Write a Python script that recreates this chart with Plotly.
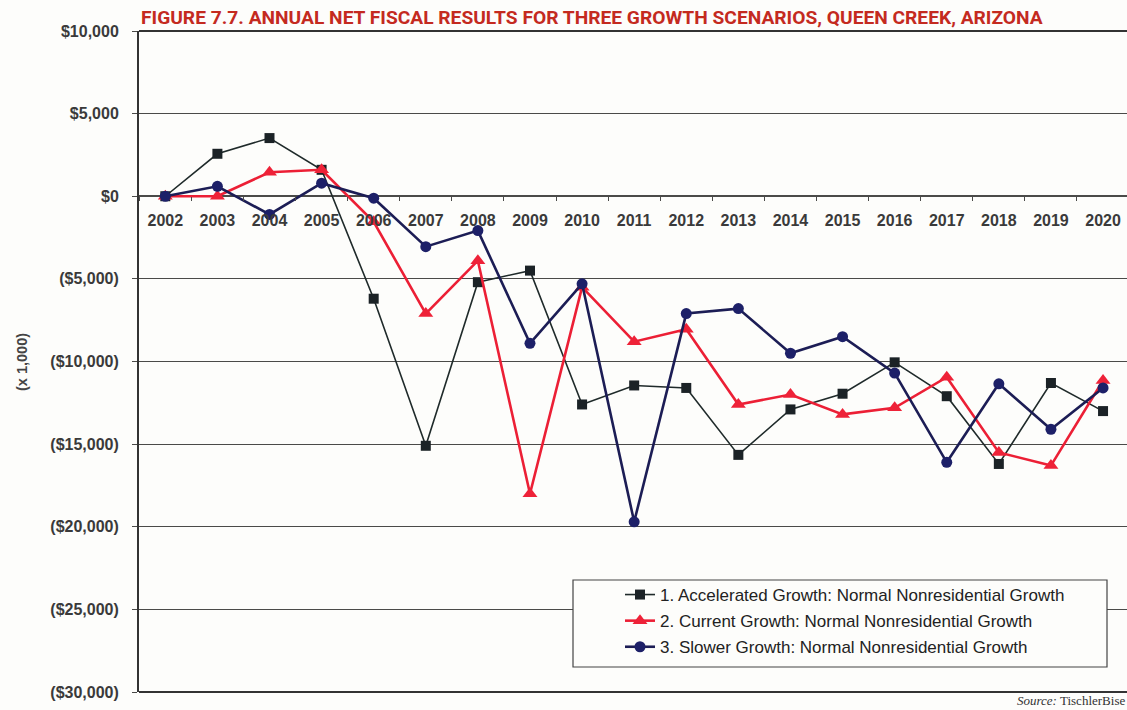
import plotly.graph_objects as go

# Annual net fiscal results, thousands of dollars
years = [str(y) for y in range(2002, 2021)]

accelerated = [0, 2570, 3520, 1600, -6200, -15100, -5200, -4500, -12600, -11450,
               -11600, -15650, -12900, -11950, -10050, -12100, -16200, -11300, -13000]
current = [0, 0, 1450, 1600, -1550, -7100, -3900, -18000, -5500, -8800,
           -8050, -12600, -12000, -13200, -12800, -10950, -15500, -16300, -11150]
slower = [0, 600, -1100, 790, -120, -3050, -2080, -8900, -5300, -19700,
          -7100, -6800, -9500, -8500, -10700, -16100, -11350, -14100, -11600]

series_names = [
    "1. Accelerated Growth: Normal Nonresidential Growth",
    "2. Current Growth: Normal Nonresidential Growth",
    "3. Slower Growth: Normal Nonresidential Growth",
]

y_ticks = [10000, 5000, 0, -5000, -10000, -15000, -20000, -25000, -30000]
y_tick_text = ["$10,000", "$5,000", "$0", "($5,000)", "($10,000)", "($15,000)",
               "($20,000)", "($25,000)", "($30,000)"]

W, H = 1127, 710
L, R, T, B = 139, 0, 31, 18
plot_w = W - L - R
plot_h = H - T - B
zero_pos = (0 - (-30000)) / 40000  # fraction of plot height where y = 0


def px_x(p):
    return (p - L) / plot_w


def px_y(p):
    return (H - B - p) / plot_h


fig = go.Figure()

fig.add_trace(go.Scatter(
    x=years, y=accelerated, name=series_names[0], mode="lines+markers",
    line=dict(color="#1f2a2a", width=1.6),
    marker=dict(symbol="square", size=10, color="#1b2226",
                line=dict(color="#1b2226", width=0)),
    legendgroup="a",
))
fig.add_trace(go.Scatter(
    x=years, y=current, name=series_names[1], mode="lines+markers",
    line=dict(color="#ec1f35", width=2.6),
    marker=dict(symbol="triangle-up", size=13, color="#ee2238",
                line=dict(color="#ee2238", width=0)),
    legendgroup="b",
))
fig.add_trace(go.Scatter(
    x=years, y=slower, name=series_names[2], mode="lines+markers",
    line=dict(color="#1c1d55", width=2.6),
    marker=dict(symbol="circle", size=11, color="#1d2068",
                line=dict(color="#1d2068", width=0)),
    legendgroup="c",
))

grid_col = "#4a4a48"
tick_font = dict(family="Arial, Liberation Sans, sans-serif", size=16, color="#3a3a3a",
                 weight="bold")

fig.update_layout(
    width=W, height=H,
    margin=dict(l=L, r=R, t=T, b=B, pad=0),
    paper_bgcolor="#fdfdfb",
    plot_bgcolor="#fdfdfb",
    showlegend=True,
    legend=dict(
        x=px_x(620), y=px_y(577),
        xanchor="left", yanchor="top",
        bgcolor="rgba(0,0,0,0)", borderwidth=0,
        font=dict(family="Arial, Liberation Sans, sans-serif", size=17, color="#222222"),
        tracegroupgap=1, itemwidth=30,
    ),
    xaxis=dict(
        type="category",
        range=[-0.505, 18.46],
        anchor="free", position=zero_pos,
        showgrid=False, showline=False, zeroline=False,
        ticks="outside", tickson="boundaries", ticklen=4, tickwidth=1.2,
        tickcolor=grid_col,
        tickfont=tick_font,
        ticklabelstandoff=13,
    ),
    yaxis=dict(
        range=[-30000, 10000],
        tickvals=y_ticks, ticktext=y_tick_text,
        showgrid=True, gridcolor=grid_col, gridwidth=1.3,
        zeroline=True, zerolinecolor=grid_col, zerolinewidth=1.6,
        showline=True, linecolor="#333333", linewidth=2,
        ticks="outside", ticklen=5, tickwidth=1.2, tickcolor=grid_col,
        tickfont=tick_font,
        ticklabelstandoff=10,
    ),
    shapes=[
        # top border of the plotting area
        dict(type="line", xref="paper", yref="paper", x0=0, x1=1, y0=1, y1=1,
             line=dict(color="#333333", width=2), layer="above"),
        # bottom border
        dict(type="line", xref="paper", yref="paper", x0=0, x1=1, y0=0, y1=0,
             line=dict(color="#333333", width=2), layer="above"),
        # legend frame
        dict(type="rect", xref="paper", yref="paper",
             x0=px_x(573), x1=px_x(1107), y0=px_y(667), y1=px_y(580),
             fillcolor="#fdfdfb", line=dict(color="#444444", width=1.2), layer="above"),
    ],
    annotations=[
        dict(text="<b>FIGURE 7.7. ANNUAL NET FISCAL RESULTS FOR THREE GROWTH SCENARIOS, QUEEN CREEK, ARIZONA</b>",
             xref="paper", yref="paper", x=px_x(139), y=px_y(17),
             xanchor="left", yanchor="middle", showarrow=False,
             font=dict(family="Roboto, Arial, sans-serif", size=19.2, color="#c42a1f")),
        dict(text="<b>(x 1,000)</b>", textangle=-90,
             xref="paper", yref="paper", x=px_x(22), y=px_y(362),
             xanchor="center", yanchor="middle", showarrow=False,
             font=dict(family="Arial, Liberation Sans, sans-serif", size=14.5, color="#444444")),
        dict(text="<i>Source:</i> TischlerBise",
             xref="paper", yref="paper", x=1.0, y=px_y(701),
             xanchor="right", yanchor="middle", showarrow=False,
             font=dict(family="Liberation Serif, serif", size=13, color="#333333")),
    ],
)

fig.write_html("out.html")
